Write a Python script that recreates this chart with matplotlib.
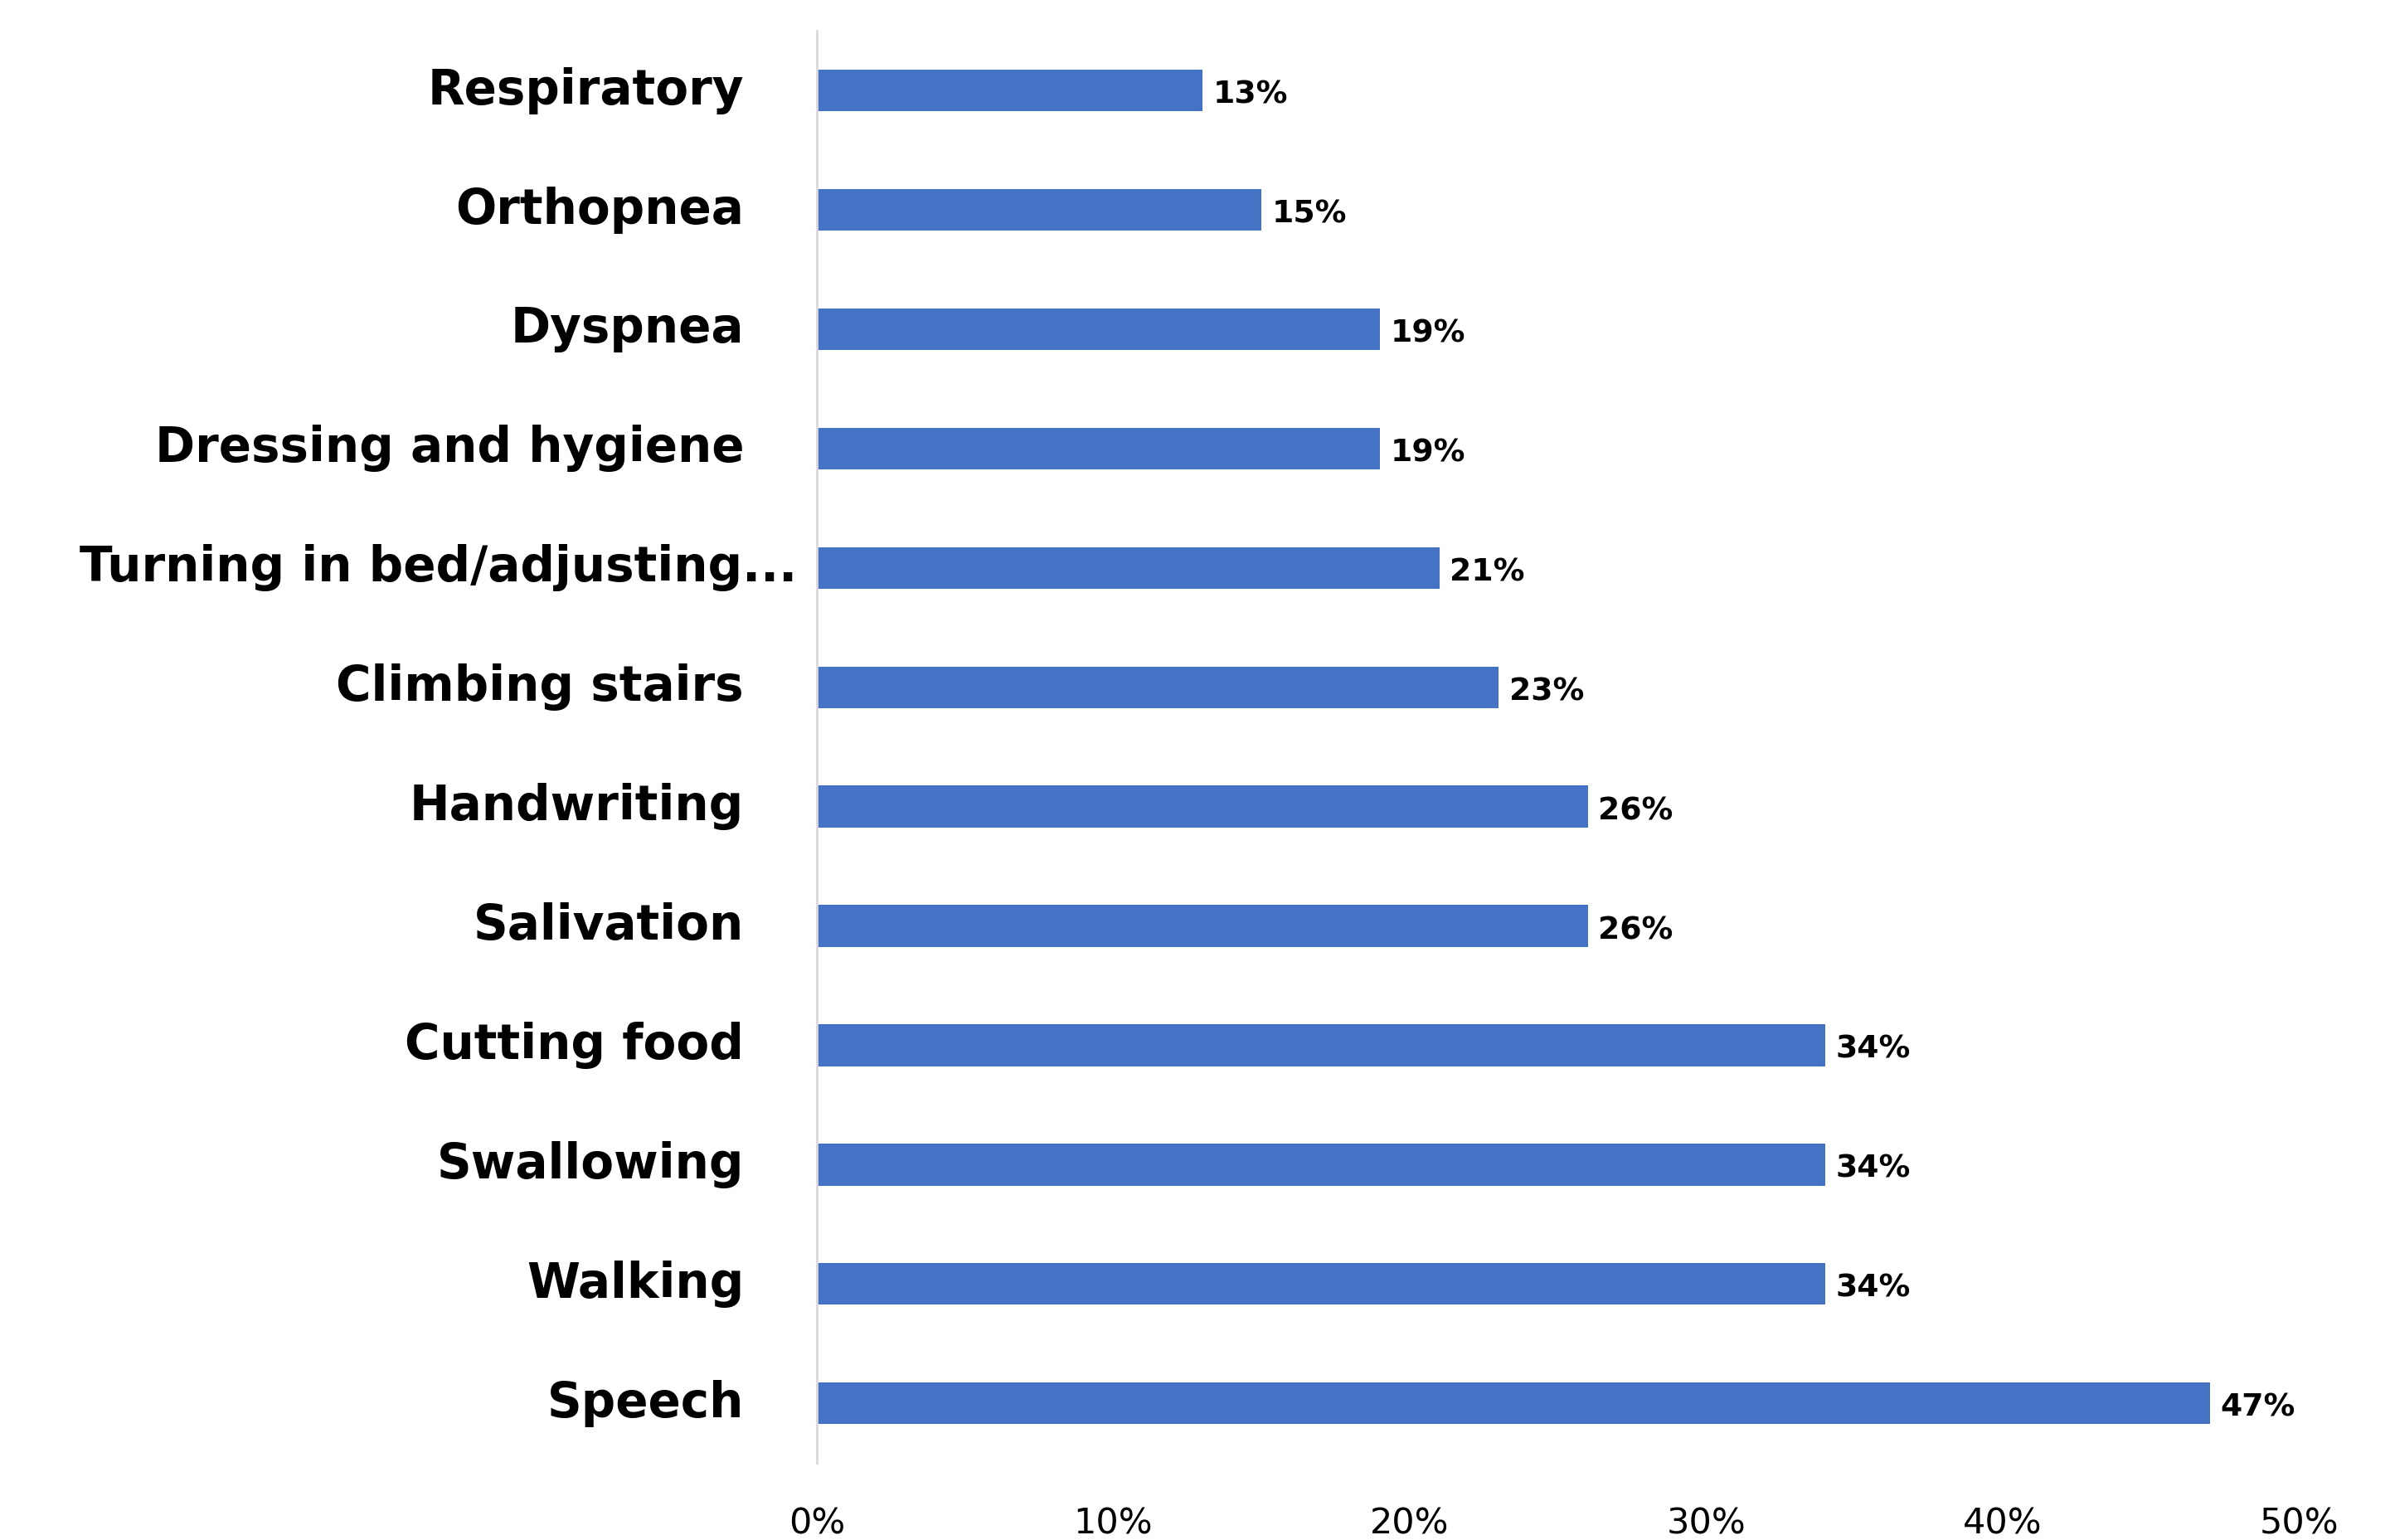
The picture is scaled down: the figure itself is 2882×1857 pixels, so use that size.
import matplotlib
matplotlib.use("Agg")
import matplotlib.pyplot as plt
from matplotlib.ticker import FuncFormatter
import matplotlib.transforms as mtransforms

categories = ["Respiratory", "Orthopnea", "Dyspnea", "Dressing and hygiene",
              "Turning in bed/adjusting...", "Climbing stairs", "Handwriting",
              "Salivation", "Cutting food", "Swallowing", "Walking", "Speech"]
values = [13, 15, 19, 19, 21, 23, 26, 26, 34, 34, 34, 47]
xticks = [0, 10, 20, 30, 40, 50]

FONT = ["DejaVu Sans"]
plt.rcParams['font.family'] = FONT

fig = plt.figure(figsize=(14.41, 9.285), dpi=200)
ax = fig.add_axes([0.3418, 0.050, 0.962 - 0.3418, 0.930])

ys = list(range(len(categories)))
ax.barh(ys, values, height=0.35, color="#4472C4")
ax.set_ylim(len(categories) - 0.5, -0.5)
ax.set_xlim(0, 50)

for s in ["top", "right", "bottom"]:
    ax.spines[s].set_visible(False)
ax.spines["left"].set_color("#d9d9d9")
ax.spines["left"].set_linewidth(1.0)

ax.set_xticks(xticks)
ax.xaxis.set_major_formatter(FuncFormatter(lambda v, p: f"{v:.0f}%"))
ax.tick_params(axis="x", length=0, pad=19, labelsize=15.5)
ax.set_yticks([])

trans = mtransforms.blended_transform_factory(ax.transAxes, ax.transData)
for y, cat in zip(ys, categories):
    dx = -24 if cat.endswith("...") else -88
    off = mtransforms.offset_copy(trans, fig=fig, x=dx, y=0, units="dots")
    ax.text(0.0, y, cat, transform=off, ha="right", va="center",
            fontsize=20.9, fontweight="bold", color="black")

for y, v in zip(ys, values):
    ax.annotate(f"{v}%", xy=(v, y), xytext=(4.5, -2), textcoords="offset points",
                ha="left", va="center", fontsize=13.6, fontweight="bold", color="black")

fig.savefig("out.png", dpi=200)
